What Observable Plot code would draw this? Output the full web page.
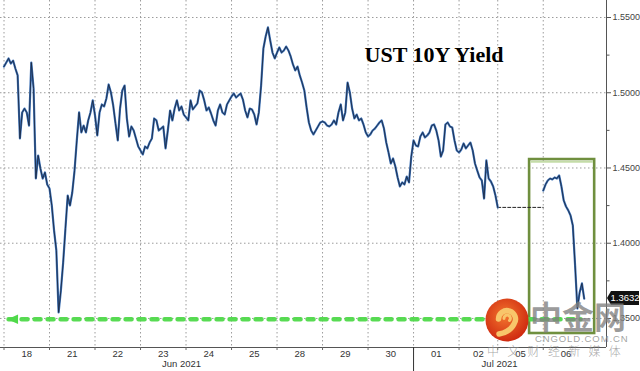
<!DOCTYPE html>
<html><head><meta charset="utf-8">
<script src="https://cdn.jsdelivr.net/npm/d3@7"></script>
<script src="https://cdn.jsdelivr.net/npm/@observablehq/plot@0.6"></script>
<style>
html,body{margin:0;padding:0;background:#fff;}
#wrap{position:relative;width:640px;height:371px;overflow:hidden;background:#fff;}
#chart svg{display:block;}
#wm{position:absolute;left:0;top:0;width:640px;height:371px;pointer-events:none;}
#wm .big{position:absolute;left:530px;top:299px;font:700 32px/1 "Noto Sans CJK SC",sans-serif;color:rgba(128,128,128,0.78);letter-spacing:0px;}
#wm .url{position:absolute;left:535px;top:334px;font:400 9.5px/1 "Liberation Sans",Arial,sans-serif;color:rgba(150,150,150,0.9);letter-spacing:0.9px;}
#wm .cn{position:absolute;left:487px;top:345px;font:300 12px/1 "Noto Sans CJK SC",sans-serif;color:rgba(150,150,150,0.85);letter-spacing:8.3px;}
#wm svg{position:absolute;left:485px;top:298px;}
</style></head><body>
<div id="wrap"><div id="chart"></div>
<div id="wm">
<svg width="44" height="44" viewBox="0 0 44 44">
<defs><radialGradient id="lg" cx="45%" cy="40%" r="60%"><stop offset="0%" stop-color="#f3762e"/><stop offset="100%" stop-color="#cf2a10"/></radialGradient></defs>
<circle cx="22" cy="22" r="21.5" fill="url(#lg)"/>
<path d="M13.5,21 a8.5,8.5 0 1,1 15.5,5 q-4,8 -15,10" fill="none" stroke="#f8c56a" stroke-width="5.5" stroke-linecap="round"/>
<path d="M19,20.5 a3.2,3.2 0 1,1 5.5,2" fill="none" stroke="#f8c56a" stroke-width="3" stroke-linecap="round"/>
</svg>
<div class="big">中金网</div>
<div class="url">CNGOLD.COM.CN</div>
<div class="cn">中文财经新媒体</div>
</div>
</div>
<script>
// ---- data ----
const dayLabels = ["18","21","22","23","24","25","28","29","30","01","02","05","06"];
const dayStarts = [0,1,2,3,4,5,6,7,8,9,10,10.85,11.85];
const lastDayEnd = 12.85;
const monthBoundaryIndex = 9;
const monthLabels = ["Jun 2021","Jul 2021"];
const monthCenters = [3.9, 10.89];
const yTicks = [1.35,1.40,1.45,1.50,1.55];
const yMinorTicks = [1.375,1.425,1.475,1.525];

const jun18 = [1.5174,1.5201,1.5228,1.5194,1.5214,1.5161,1.5115,1.4696,1.4869,1.4895,1.4869,1.4782,1.5201,1.5028,1.4430,1.4583,1.4497,1.4430,1.4470,1.4390];
const jun21 = [1.4364,1.4251,1.4085,1.3952,1.3540,1.3686,1.3872,1.4098,1.4317,1.4251,1.4337,1.4483,1.4683,1.4869,1.4736,1.4782,1.4736,1.4816,1.4869,1.4949];
const jun22 = [1.4849,1.4716,1.4869,1.4922,1.4909,1.4962,1.5055,1.5002,1.4915,1.4796,1.4683,1.4895,1.5015,1.5048,1.4829,1.4709,1.4776,1.4749,1.4696,1.4643];
const jun23 = [1.4616,1.4590,1.4643,1.4630,1.4669,1.4696,1.4829,1.4816,1.4749,1.4762,1.4776,1.4630,1.4749,1.4882,1.4816,1.4895,1.4949,1.4882,1.4909,1.4855];
const jun24 = [1.4836,1.4816,1.4949,1.4889,1.4909,1.4929,1.5015,1.5002,1.4949,1.4882,1.4902,1.4862,1.4816,1.4782,1.4882,1.4922,1.4869,1.4855,1.4922,1.4949];
const jun25 = [1.4975,1.4995,1.4968,1.4982,1.4995,1.4955,1.4882,1.4836,1.4895,1.4889,1.4855,1.4789,1.4869,1.5048,1.5294,1.5374,1.5434,1.5347,1.5267,1.5228];
const jun28 = [1.5267,1.5301,1.5267,1.5281,1.5307,1.5281,1.5241,1.5188,1.5148,1.5174,1.5115,1.5068,1.5015,1.4902,1.4802,1.4749,1.4723,1.4749,1.4776,1.4802];
const jun29 = [1.4809,1.4802,1.4782,1.4776,1.4789,1.4816,1.4789,1.4869,1.4922,1.4816,1.4869,1.5068,1.5002,1.4895,1.4829,1.4855,1.4816,1.4829,1.4789,1.4736];
const jun30 = [1.4709,1.4723,1.4749,1.4762,1.4782,1.4802,1.4816,1.4762,1.4669,1.4603,1.4530,1.4563,1.4510,1.4437,1.4377,1.4404,1.4390,1.4443,1.4404,1.4576];
const jul01 = [1.4683,1.4650,1.4643,1.4709,1.4736,1.4703,1.4716,1.4736,1.4782,1.4789,1.4749,1.4683,1.4576,1.4616,1.4789,1.4802,1.4776,1.4769,1.4683,1.4616];
const jul02 = [1.4603,1.4623,1.4663,1.4630,1.4650,1.4669,1.4616,1.4530,1.4483,1.4437,1.4417,1.4297,1.4550,1.4430,1.4410,1.4377,1.4317,1.4238];
const jul05 = [];
const jul06 = [1.4350,1.4390,1.4417,1.4430,1.4424,1.4437,1.4430,1.4450,1.4377,1.4284,1.4244,1.4218,1.4184,1.4118,1.3852,1.3566,1.3673,1.3733,1.3632];

const titleText = "UST 10Y Yield";
const titlePos = {t: 9.45, v: 1.5248};
const supportLevel = 1.3495;
const arrowSpan = [0.1, 12.67];
const highlightT = [11.55, 12.98];
const highlightV = [1.3400, 1.4556];
const xDomain = [-0.077, 13.24];
const yDomain = [1.3307, 1.5613];

// ---- build table ----
const sessions = [jun18,jun21,jun22,jun23,jun24,jun25,jun28,jun29,jun30,jul01,jul02,jul05,jul06];
const STEP = 1/20;
const rows = [];
let seg = 1;
sessions.forEach((vals, k) => {
  if (vals.length === 0) { seg++; return; }
  vals.forEach((v, i) => rows.push({t: dayStarts[k] + i*STEP, v, seg}));
});
const seg1 = rows.filter(d => d.seg === 1), seg2 = rows.filter(d => d.seg === 2);
const gapRows = [{t: seg1[seg1.length-1].t, v: seg1[seg1.length-1].v}, {t: seg2[0].t, v: seg1[seg1.length-1].v}];
const dayEnds = dayStarts.map((s, k) => k < dayStarts.length-1 ? dayStarts[k+1] : lastDayEnd);
const dayCenters = dayStarts.map((s, k) => (s + dayEnds[k]) / 2);
const dayLabelAt = new Map(dayCenters.map((c, i) => [c, dayLabels[i]]));
const monthAt = new Map(monthCenters.map((c, i) => [c, monthLabels[i]]));
const lastValue = rows[rows.length-1].v;

const leftTriangle = {draw(ctx, size) { const s = Math.sqrt(size/Math.PI); ctx.moveTo(-s,0); ctx.lineTo(s*0.75,-s*0.8); ctx.lineTo(s*0.75,s*0.8); ctx.closePath(); }};

const plot = Plot.plot({
  width: 640, height: 371,
  marginTop: 0, marginRight: 34, marginBottom: 24, marginLeft: 0,
  style: {fontFamily: "'Liberation Sans', Arial, sans-serif", background: "#fff", color: "#333", overflow: "visible"},
  x: {domain: xDomain, axis: null, label: null},
  y: {domain: yDomain, axis: null, label: null},
  marks: [
    Plot.ruleY(yTicks, {stroke: "#9c9c9c", strokeDasharray: "1.5,2.5", strokeWidth: 1}),
    Plot.ruleX(dayStarts, {stroke: "#9c9c9c", strokeDasharray: "1.5,2.5", strokeWidth: 1}),
    Plot.rect([{x1: highlightT[0], x2: highlightT[1], y1: highlightV[0], y2: highlightV[1]}],
      {x1: "x1", x2: "x2", y1: "y1", y2: "y2", fill: "none", stroke: "#6f8f3e", strokeWidth: 2.6}),
    Plot.ruleY([highlightV[1]], {x1: highlightT[0], x2: highlightT[1], stroke: "#c4dca8", strokeWidth: 2, dy: 2.3, insetLeft: 1.3, insetRight: 1.3}),
    Plot.line([{t: arrowSpan[0], v: supportLevel}, {t: arrowSpan[1], v: supportLevel}],
      {x: "t", y: "v", stroke: "#4fd94a", strokeWidth: 4.5, strokeDasharray: "6,7", strokeLinecap: "round", strokeOpacity: 0.95}),
    Plot.dot([{t: arrowSpan[0], v: supportLevel}], {x: "t", y: "v", symbol: leftTriangle, r: 6, fill: "#4fd94a", stroke: "none", dx: 5}),
    Plot.line(gapRows, {x: "t", y: "v", stroke: "#222", strokeWidth: 1, strokeDasharray: "3,2"}),
    Plot.line(rows, {x: "t", y: "v", z: "seg", stroke: "#3d72b8", strokeWidth: 2.2}),
    Plot.line(rows, {x: "t", y: "v", z: "seg", stroke: "#1a2740", strokeWidth: 1, strokeOpacity: 0.85}),
    Plot.ruleY([yDomain[0]], {stroke: "#555", strokeWidth: 1}),
    Plot.ruleX([xDomain[1]], {stroke: "#555", strokeWidth: 1}),
    Plot.axisX({ticks: dayStarts, tickSize: 3, tickFormat: () => "", stroke: "#666"}),
    Plot.axisX({ticks: [dayStarts[monthBoundaryIndex]], tickSize: 24, tickFormat: () => "", stroke: "#333"}),
    Plot.axisX({ticks: dayCenters, tickSize: 0, tickPadding: 3, tickFormat: d => dayLabelAt.get(d), fontSize: 9.5, fill: "#333"}),
    Plot.axisX({ticks: monthCenters, tickSize: 0, tickPadding: 13, tickFormat: d => monthAt.get(d), fontSize: 9.5, fill: "#333"}),
    Plot.axisY({anchor: "right", ticks: yTicks, tickSize: 4, tickPadding: 2, tickFormat: d3.format(".4f"), fontSize: 9, fill: "#444", stroke: "#555"}),
    Plot.axisY({anchor: "right", ticks: yMinorTicks, tickSize: 2.5, tickFormat: () => "", stroke: "#555"}),
    Plot.text([titleText], {x: () => titlePos.t, y: () => titlePos.v, text: d => d, fontFamily: "'Liberation Serif', 'Times New Roman', serif", fontWeight: "bold", fontSize: 22, fill: "#000"})
  ]
});
document.getElementById("chart").appendChild(plot);

// last value tag on the right axis
const yp = plot.scale("y").apply(lastValue);
const xp = plot.scale("x").apply(xDomain[1]);
const svg = d3.select(plot);
const g = svg.append("g");
g.append("path").attr("d", `M${xp+1},${yp} L${xp+5},${yp-7} H639 V${yp+7} H${xp+5} Z`).attr("fill", "#111");
g.append("text").attr("x", xp+5+(639-xp-5)/2).attr("y", yp+3.3).attr("text-anchor", "middle")
  .attr("fill", "#fff").attr("font-size", 9.5).attr("font-family", "'Liberation Sans', Arial, sans-serif").text(d3.format(".4f")(lastValue));
</script>
</body></html>
